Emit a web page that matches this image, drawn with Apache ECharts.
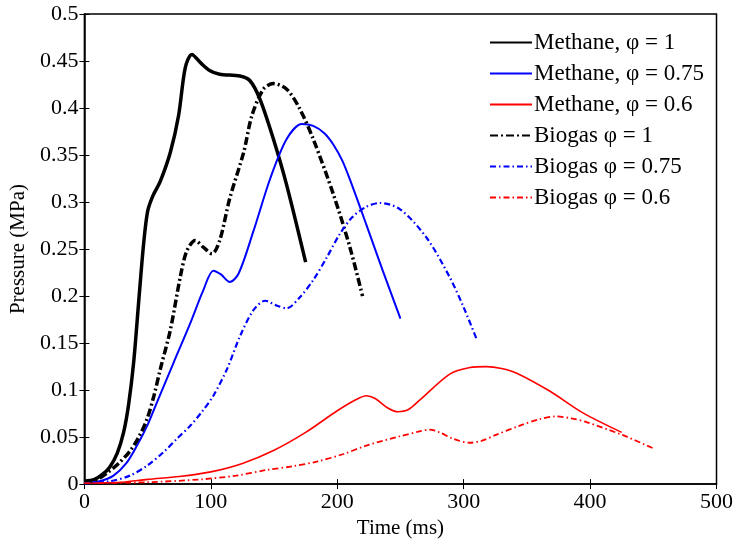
<!DOCTYPE html>
<html>
<head>
<meta charset="utf-8">
<script src="https://cdn.jsdelivr.net/npm/echarts@6/dist/echarts.min.js"></script>
<style>
  html, body { margin: 0; padding: 0; background: #fff; }
  #main { width: 736px; height: 544px; }
</style>
</head>
<body>
<div id="main"></div>
<script>
// data: [time (ms), pressure (MPa)]
var methane1 = [[0,0.003],[8,0.005],[14,0.01],[20,0.018],[26,0.033],[31,0.055],[35,0.085],[39,0.13],[43,0.195],[46.8,0.255],[50,0.29],[54,0.306],[60,0.322],[68,0.353],[74.5,0.392],[79.8,0.443],[85,0.457],[92,0.448],[99,0.44],[107,0.436],[123,0.434],[131,0.429],[139,0.409],[149.5,0.367],[160,0.318],[175,0.236]];
var methane075 = [[0,0.001],[12,0.003],[23,0.009],[33,0.022],[41.6,0.041],[50,0.063],[57.4,0.087],[70.5,0.129],[83.7,0.171],[94,0.206],[102,0.227],[108,0.223],[115,0.215],[122,0.224],[133.7,0.269],[147,0.325],[160,0.367],[172,0.383],[181,0.381],[190,0.373],[197,0.361],[204,0.344],[210,0.324],[223,0.276],[236,0.227],[250,0.176]];
var methane06 = [[0,0.001],[30,0.002],[50,0.005],[75,0.008],[100,0.013],[125,0.022],[150,0.036],[175,0.055],[200,0.078],[215,0.09],[223,0.094],[230,0.091],[240,0.081],[248,0.077],[256,0.079],[265,0.089],[289,0.117],[305,0.124],[318,0.125],[330,0.123],[342,0.118],[368,0.099],[394,0.076],[425,0.055]];
var biogas1 = [[0,0.002],[10,0.005],[18,0.012],[27,0.022],[36,0.035],[43,0.05],[49.5,0.069],[55,0.094],[60,0.122],[68,0.164],[75.8,0.22],[81,0.248],[87.7,0.259],[94,0.252],[101,0.245],[107,0.259],[115,0.304],[126,0.353],[132.5,0.392],[141.6,0.42],[149.5,0.426],[160,0.42],[170,0.4],[181,0.367],[197,0.308],[210,0.252],[220,0.2]];
var biogas075 = [[0,0.001],[20,0.003],[36,0.009],[50,0.02],[62.6,0.034],[73,0.048],[83.7,0.062],[93,0.077],[102,0.094],[112.7,0.122],[123,0.157],[133.7,0.185],[143,0.195],[152,0.19],[160,0.187],[170.6,0.199],[181,0.217],[191.7,0.241],[202,0.266],[212,0.284],[223,0.295],[234,0.299],[250,0.292],[270.7,0.262],[289,0.22],[300,0.188],[310,0.155]];
var biogas06 = [[0,0.001],[50,0.002],[92,0.005],[120,0.009],[144,0.015],[165,0.019],[184,0.024],[205,0.032],[223,0.041],[250,0.051],[265,0.056],[273,0.058],[281,0.055],[292,0.048],[305,0.044],[314,0.046],[325,0.052],[344,0.062],[360,0.069],[373,0.072],[385,0.07],[397,0.066],[426,0.052],[450,0.038]];

var seriesNames = ['Methane, φ = 1', 'Methane, φ = 0.75', 'Methane, φ = 0.6', 'Biogas φ = 1', 'Biogas φ = 0.75', 'Biogas φ = 0.6'];

var font = 'Liberation Serif';
var myChart = echarts.init(document.getElementById('main'));

function line(name, data, color, width, type) {
    return {
        name: name,
        type: 'line',
        data: data,
        smooth: 0.3,
        showSymbol: false,
        symbol: 'none',
        lineStyle: { color: color, width: width, type: type },
        itemStyle: { color: color }
    };
}

var dashDotBig = [8, 3, 2, 3];
var dashDot = [6, 3, 1.5, 3];

var tickStyle = { inside: true, length: 5, lineStyle: { color: '#000', width: 1 } };

var option = {
    animation: false,
    textStyle: { fontFamily: font },
    grid: {
        left: 84, right: 19, top: 14, bottom: 55,
        show: true, borderColor: '#000', borderWidth: 1.5
    },
    legend: {
        orient: 'vertical',
        left: 484,
        top: 26,
        itemWidth: 42,
        itemHeight: 14,
        itemGap: 8,
        itemStyle: { opacity: 0 },
        data: seriesNames,
        textStyle: { fontFamily: font, fontSize: 23, color: '#000', padding: [0, 0, 0, -3] }
    },
    xAxis: [{
        type: 'value',
        min: 0, max: 500, interval: 100,
        name: 'Time (ms)',
        nameLocation: 'middle',
        nameGap: 29,
        nameTextStyle: { fontFamily: font, fontSize: 21, color: '#000' },
        axisLine: { show: true, lineStyle: { color: '#000', width: 1.5 } },
        axisTick: tickStyle,
        axisLabel: { fontFamily: font, fontSize: 22, color: '#000', margin: 7 },
        splitLine: { show: false }
    }, {
        type: 'value', position: 'top',
        min: 0, max: 500, interval: 100,
        axisLine: { show: false },
        axisTick: tickStyle,
        axisLabel: { show: false },
        splitLine: { show: false }
    }],
    yAxis: [{
        type: 'value',
        min: 0, max: 0.5, interval: 0.05,
        name: 'Pressure (MPa)',
        nameLocation: 'middle',
        nameGap: 54,
        nameTextStyle: { fontFamily: font, fontSize: 21, color: '#000' },
        axisLine: { show: true, lineStyle: { color: '#000', width: 1.5 } },
        axisTick: tickStyle,
        axisLabel: {
            fontFamily: font, fontSize: 22, color: '#000', margin: 6,
            formatter: function (v) { return String(+v.toFixed(2)); }
        },
        splitLine: { show: false }
    }, {
        type: 'value', position: 'right',
        min: 0, max: 0.5, interval: 0.05,
        axisLine: { show: false },
        axisTick: tickStyle,
        axisLabel: { show: false },
        splitLine: { show: false }
    }],
    series: [
        line(seriesNames[0], methane1, '#000000', 3.5, 'solid'),
        line(seriesNames[1], methane075, '#0000ff', 2, 'solid'),
        line(seriesNames[2], methane06, '#ff0000', 1.6, 'solid'),
        line(seriesNames[3], biogas1, '#000000', 3.5, dashDotBig),
        line(seriesNames[4], biogas075, '#0000ff', 2.2, dashDot),
        line(seriesNames[5], biogas06, '#ff0000', 1.8, dashDot)
    ]
};

myChart.setOption(option);
</script>
</body>
</html>
